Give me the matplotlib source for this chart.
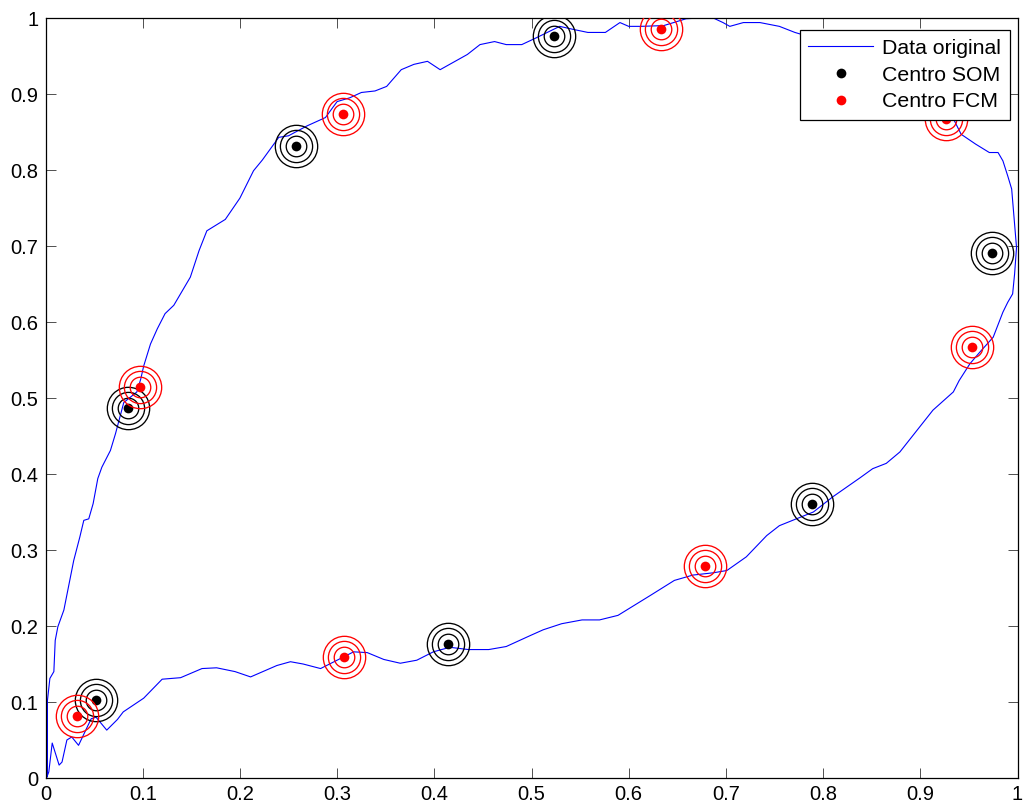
import matplotlib
matplotlib.use("Agg")
import matplotlib.pyplot as plt

plt.rcParams['font.family'] = ['Liberation Sans', 'DejaVu Sans']

# Original data curve
data_x = [0.001, 0.002, 0.002, 0.0045, 0.0086, 0.010, 0.0127, 0.0189, 0.0223, 0.029,
          0.0353, 0.0394, 0.0445, 0.049, 0.0538, 0.058, 0.0668, 0.072, 0.0805, 0.094,
          0.098, 0.101, 0.108, 0.115, 0.123, 0.132, 0.149, 0.158, 0.166, 0.185,
          0.200, 0.214, 0.223, 0.240, 0.250, 0.269, 0.288, 0.300, 0.313, 0.325,
          0.339, 0.351, 0.366, 0.379, 0.393, 0.406, 0.420, 0.434, 0.447, 0.462,
          0.474, 0.490, 0.505, 0.529, 0.543, 0.558, 0.576, 0.591, 0.600, 0.612,
          0.636, 0.659, 0.673, 0.687, 0.697, 0.704, 0.718, 0.735, 0.755, 0.771,
          0.800, 0.850, 0.890, 0.920, 0.935, 0.942, 0.957, 0.971, 0.980, 0.985,
          0.990, 0.994, 0.997, 0.999, 0.997, 0.995, 0.990, 0.985, 0.975, 0.961,
          0.951, 0.940, 0.934, 0.913, 0.879, 0.865, 0.851, 0.838, 0.810, 0.790,
          0.755, 0.742, 0.721, 0.701, 0.687, 0.666, 0.647, 0.622, 0.589, 0.570,
          0.552, 0.531, 0.512, 0.498, 0.474, 0.456, 0.435, 0.416, 0.399, 0.382,
          0.365, 0.348, 0.331, 0.317, 0.300, 0.283, 0.265, 0.252, 0.238, 0.211,
          0.195, 0.176, 0.161, 0.139, 0.120, 0.101, 0.080, 0.074, 0.063, 0.052,
          0.047, 0.034, 0.027, 0.022, 0.017, 0.014, 0.0069, 0.0034, 0.001]
data_y = [0.000, 0.005, 0.102, 0.131, 0.140, 0.181, 0.199, 0.221, 0.243, 0.286,
          0.317, 0.339, 0.341, 0.361, 0.394, 0.409, 0.431, 0.453, 0.494, 0.508,
          0.525, 0.542, 0.571, 0.591, 0.611, 0.622, 0.659, 0.694, 0.720, 0.735,
          0.763, 0.799, 0.813, 0.843, 0.845, 0.858, 0.869, 0.890, 0.895, 0.902,
          0.904, 0.910, 0.932, 0.939, 0.943, 0.932, 0.942, 0.952, 0.965, 0.969,
          0.965, 0.965, 0.974, 0.989, 0.985, 0.981, 0.981, 0.994, 0.989, 0.989,
          0.990, 0.999, 1.000, 1.000, 0.994, 0.989, 0.994, 0.994, 0.989, 0.981,
          0.970, 0.950, 0.920, 0.885, 0.865, 0.847, 0.834, 0.823, 0.823, 0.812,
          0.792, 0.775, 0.729, 0.698, 0.663, 0.637, 0.626, 0.613, 0.580, 0.560,
          0.545, 0.523, 0.508, 0.484, 0.429, 0.414, 0.407, 0.395, 0.370, 0.350,
          0.332, 0.319, 0.291, 0.273, 0.270, 0.267, 0.260, 0.240, 0.214, 0.208,
          0.208, 0.203, 0.195, 0.187, 0.173, 0.169, 0.169, 0.172, 0.166, 0.155,
          0.151, 0.156, 0.165, 0.166, 0.155, 0.144, 0.150, 0.153, 0.148, 0.133,
          0.140, 0.145, 0.144, 0.132, 0.130, 0.105, 0.087, 0.077, 0.063, 0.080,
          0.078, 0.043, 0.054, 0.050, 0.021, 0.017, 0.046, 0.008, 0.000]

# Cluster centres
som_x = [0.052, 0.085, 0.258, 0.523, 0.974, 0.789, 0.414]
som_y = [0.102, 0.487, 0.832, 0.976, 0.691, 0.361, 0.176]
fcm_x = [0.032, 0.097, 0.306, 0.633, 0.926, 0.953, 0.679, 0.307]
fcm_y = [0.081, 0.515, 0.874, 0.986, 0.867, 0.567, 0.279, 0.159]

tick_vals = [0, 0.1, 0.2, 0.3, 0.4, 0.5, 0.6, 0.7, 0.8, 0.9, 1]
tick_labels = ['0', '0.1', '0.2', '0.3', '0.4', '0.5', '0.6', '0.7', '0.8', '0.9', '1']

fig = plt.figure(figsize=(10.26, 8.07), dpi=100)
ax = fig.add_axes([45.5 / 1026, 29 / 807, 972 / 1026, 760 / 807])

line, = ax.plot(data_x, data_y, color=(0, 0, 1), lw=0.8, label='Data original', zorder=2)

for ms in [14.8, 23.2, 30.5]:
    ax.plot(som_x, som_y, ls='none', marker='o', ms=ms, mfc='none', mec='black', mew=0.95, zorder=3)
ax.plot(som_x, som_y, ls='none', marker='o', ms=7.0, mfc='black', mec='black', mew=0,
        label='Centro SOM', zorder=4)

for ms in [14.8, 23.2, 30.5]:
    ax.plot(fcm_x, fcm_y, ls='none', marker='o', ms=ms, mfc='none', mec='red', mew=0.95, zorder=5)
ax.plot(fcm_x, fcm_y, ls='none', marker='o', ms=7.0, mfc='red', mec='red', mew=0,
        label='Centro FCM', zorder=6)

ax.set_xlim(0, 1)
ax.set_ylim(0, 1)
ax.set_xticks(tick_vals)
ax.set_xticklabels(tick_labels)
ax.set_yticks(tick_vals)
ax.set_yticklabels(tick_labels)
ax.tick_params(direction='in', length=7, width=0.6, colors='#333333', labelcolor='black',
               labelsize=14.5, top=True, right=True)
ax.tick_params(axis='x', pad=5)
ax.tick_params(axis='y', pad=5)
for sp in ax.spines.values():
    sp.set_linewidth(0.9)
    sp.set_color('black')

leg = ax.legend(loc='upper right', bbox_to_anchor=((1010 - 45.5) / 972, (778 - 30) / 760),
                borderaxespad=0, fontsize=15.3, fancybox=False, framealpha=1,
                edgecolor='black', handlelength=3.05, handletextpad=0.42,
                labelspacing=0.36, borderpad=0.42, markerscale=1.0)
leg.get_frame().set_linewidth(0.9)
leg.set_zorder(10)

fig.savefig('out.png', dpi=100)
